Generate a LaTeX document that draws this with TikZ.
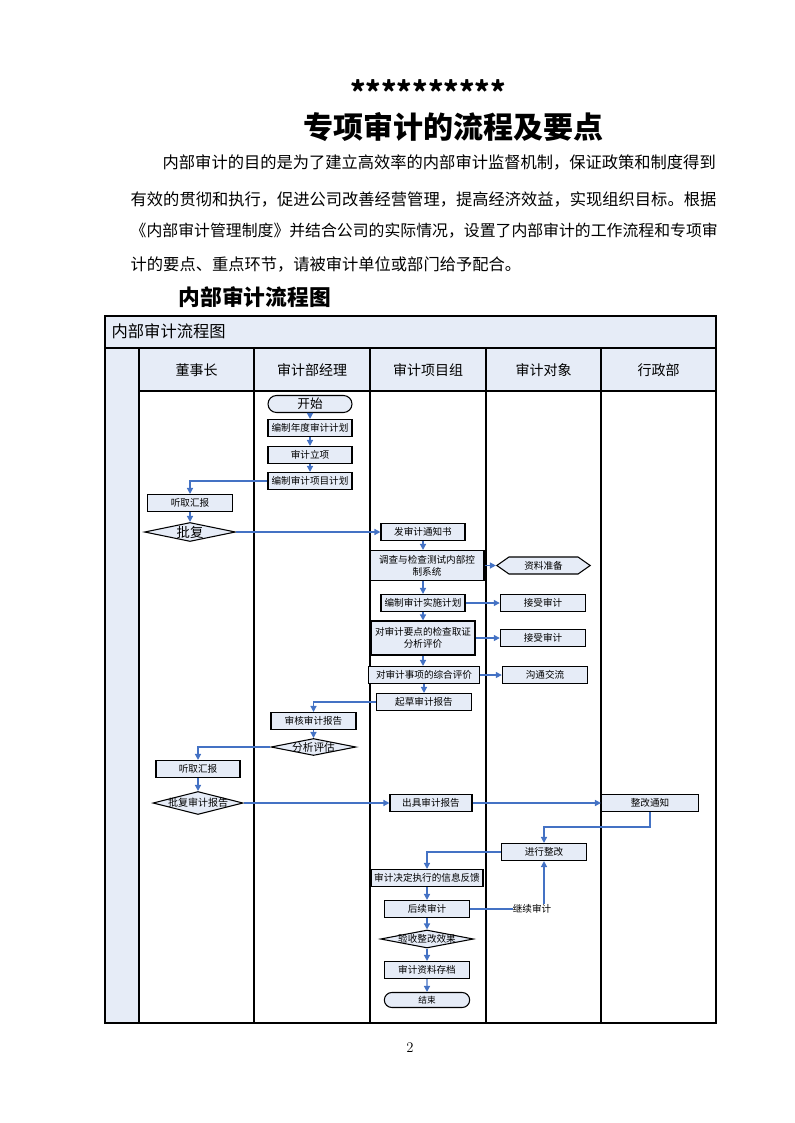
\documentclass[tikz,border=0pt]{standalone}
\usepackage{fontspec}
\newfontfamily\cjk{Noto Sans CJK SC}
\usetikzlibrary{arrows.meta}
\usetikzlibrary{shapes.geometric}
\usetikzlibrary{shapes.misc}
\usetikzlibrary{shapes.symbols}
\definecolor{cellbg}{RGB}{230,236,247}
\definecolor{flowblue}{RGB}{68,114,196}

\begin{document}
\begin{tikzpicture}[x=0.75pt,y=-0.75pt,
  txt/.style={font=\cjk\fontsize{7.2}{9}\selectfont,inner sep=0pt},
  box/.style={txt,draw,fill=cellbg,line width=0.8pt,minimum width=63pt,minimum height=12.75pt,align=center},
  term/.style={box,rounded rectangle},
  dia/.style={diamond,draw,fill=cellbg,line width=0.8pt,inner sep=0pt},
  hexa/.style={box,signal,signal to=west and east,signal pointer angle=70},
  flow/.style={flowblue,line width=1pt,-{Triangle[length=4.5pt,width=4.5pt]}},
  head/.style={font=\cjk\fontsize{10.5}{12}\selectfont}]
  \useasboundingbox (0,0) rectangle (794,1123);

  \node [font=\cjk\bfseries\fontsize{22}{24}\selectfont] (stars) at (428,92) {**********};
  \node [font=\cjk\bfseries\fontsize{22.5}{26}\selectfont] (title) at (453,127) {专项审计的流程及要点};
  \node [anchor=west,font=\cjk\fontsize{12.2}{14}\selectfont] (p1) at (158,162) {内部审计的目的是为了建立高效率的内部审计监督机制，保证政策和制度得到};
  \node [anchor=west,font=\cjk\fontsize{12.2}{14}\selectfont] (p2) at (126,199) {有效的贯彻和执行，促进公司改善经营管理，提高经济效益，实现组织目标。根据};
  \node [anchor=west,font=\cjk\fontsize{11.9}{14}\selectfont] (p3) at (126,231) {《内部审计管理制度》并结合公司的实际情况，设置了内部审计的工作流程和专项审};
  \node [anchor=west,font=\cjk\fontsize{12.2}{14}\selectfont] (p4) at (126,264) {计的要点、重点环节，请被审计单位或部门给予配合。};
  \node [anchor=west,font=\cjk\bfseries\fontsize{16.3}{18}\selectfont] (sub) at (174,297) {内部审计流程图};

  \fill [cellbg] (105,316) rectangle (716,391);
  \fill [cellbg] (105,391) rectangle (139,1023);
  \foreach \x in {139,254,370,486,601}
    \draw [line width=0.8pt] (\x,348) -- (\x,1023);
  \draw [line width=0.8pt] (139,391) -- (716,391);
  \draw [line width=1.8pt] (105,348) -- (716,348);
  \draw [line width=1pt] (105,316) rectangle (716,1023);

  \node [anchor=west,font=\cjk\fontsize{12.2}{14}\selectfont] (tab) at (107,331) {内部审计流程图};
  \foreach \x/\t/\n in {196.5/董事长/c1,312/审计部经理/c2,428/审计项目组/c3,543.5/审计对象/c4,658.5/行政部/c5}
    \node [head] (\n) at (\x,370) {\t};

  \node [term,font=\cjk\fontsize{9.5}{11}\selectfont] (ks) at (310,404) {开始};
  \node [box] (nd) at (310,428) {编制年度审计计划};
  \node [box] (lx) at (310,455) {审计立项};
  \node [box] (xm) at (310,481) {编制审计项目计划};
  \node [box,minimum width=63.75pt] (tq) at (190,503) {听取汇报};
  \node [dia,minimum width=68.25pt,minimum height=14.25pt,
    label={[txt,font=\cjk\fontsize{10}{12}\selectfont]center:批复}] (pf) at (190,532) {};
  \node [box] (tz) at (423,532) {发审计通知书};
  \node [box,minimum width=85.5pt,minimum height=22.5pt] (dc) at (427,565.5) {调查与检查测试内部控\\制系统};
  \node [hexa,minimum width=70pt] (zl) at (543.5,565.5) {资料准备};
  \node [box] (ss) at (423,603) {编制审计实施计划};
  \node [box,minimum width=64pt] (js1) at (543,603) {接受审计};
  \node [box,minimum width=78pt,minimum height=25.5pt] (yd) at (423,638) {对审计要点的检查取证\\分析评价};
  \node [box,minimum width=64pt] (js2) at (543,638) {接受审计};
  \node [box,minimum width=83.25pt] (zh) at (424,675) {对审计事项的综合评价};
  \node [box,minimum width=64pt] (gt) at (545,675) {沟通交流};
  \node [box,minimum width=71.25pt] (qc) at (424,702) {起草审计报告};
  \node [box,minimum width=63.75pt] (sh) at (313.5,721) {审核审计报告};
  \node [dia,minimum width=63.75pt,minimum height=12.75pt,
    label={[txt,font=\cjk\fontsize{8}{10}\selectfont]center:分析评估}] (fx) at (313.5,747) {};
  \node [box,minimum width=63pt] (tq2) at (198,769) {听取汇报};
  \node [dia,minimum width=67.5pt,minimum height=17.25pt,
    label={[txt,font=\cjk\fontsize{7.5}{9}\selectfont]center:批复审计报告}] (pb) at (198,803) {};
  \node [box,minimum width=61.5pt] (cj) at (431,803) {出具审计报告};
  \node [box,minimum width=72.75pt] (tzz) at (650,803) {整改通知};
  \node [box,minimum width=64pt] (jz) at (544,852) {进行整改};
  \node [box,minimum width=84pt] (fk) at (427,878) {审计决定执行的信息反馈};
  \node [box,minimum width=64pt] (hx) at (427,909) {后续审计};
  \node [txt] (jx) at (532,909) {继续审计};
  \node [dia,minimum width=69.75pt,minimum height=13.5pt,
    label={[txt]center:验收整改效果}] (ys) at (427,939) {};
  \node [box,minimum width=64pt] (cd) at (427,970) {审计资料存档};
  \node [term,minimum width=64pt,minimum height=11.25pt,font=\cjk\fontsize{6.5}{8}\selectfont] (end) at (427,1000) {结束};

  \draw [flow] (ks) -- (nd);
  \draw [flow] (nd) -- (lx);
  \draw [flow] (lx) -- (xm);
  \draw [flow] (xm.west) -| (tq.north);
  \draw [flow] (tq) -- (pf);
  \draw [flow] (pf.east) -- (tz.west);
  \draw [flow] (tz.south) -- (tz.south |- dc.north);
  \draw [flow] (dc.east) -- (zl.west);
  \draw [flow] (ss.north |- dc.south) -- (ss.north);
  \draw [flow] (ss.east) -- (js1.west);
  \draw [flow] (ss) -- (yd);
  \draw [flow] (yd.east) -- (js2.west);
  \draw [flow] (yd.south) -- (yd.south |- zh.north);
  \draw [flow] (zh.east) -- (gt.west);
  \draw [flow] (zh) -- (qc);
  \draw [flow] (qc.west) -| (sh.north);
  \draw [flow] (sh) -- (fx);
  \draw [flow] (fx.west) -| (tq2.north);
  \draw [flow] (tq2) -- (pb);
  \draw [flow] (pb.east) -- (cj.west);
  \draw [flow] (cj.east) -- (tzz.west);
  \draw [flow] (tzz.south) -- ++(0,15) -| (jz.north);
  \draw [flow] (jz.west) -| (fk.north);
  \draw [flow] (fk) -- (hx);
  \draw [flowblue,line width=1pt] (hx.east) -- (jx.west);
  \draw [flow] (jz.south |- jx.north) -- (jz.south);
  \draw [flow] (hx) -- (ys);
  \draw [flow] (ys) -- (cd);
  \draw [flow] (cd) -- (end);

  \node [font=\fontsize{11}{13}\selectfont] (page) at (410,1048) {2};
\end{tikzpicture}
\end{document}
